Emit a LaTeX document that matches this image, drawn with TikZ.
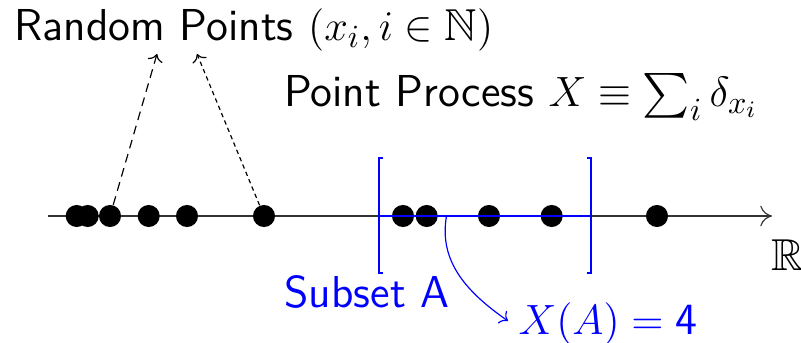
\documentclass[tikz,border=0pt]{standalone}
\usepackage{amssymb}
\usetikzlibrary{arrows.meta}
\tikzset{
  pt/.style={circle,fill=black,inner sep=0pt,minimum size=7.5pt},
  lbl/.style={font=\sffamily\fontsize{15.2}{18}\selectfont,inner sep=0pt},
  ptr/.style={->,densely dashed,thin},
  subset/.style={blue,line width=0.8pt}
}
\begin{document}
\begin{tikzpicture}[x=0.34pt,y=-0.34pt]
\useasboundingbox (0,0) rectangle (801,343);
% axis
\coordinate (axL) at (48,216);
\coordinate (axR) at (772,216);
\draw[-{To[length=4pt,width=7pt]},black!80] (axL) -- (axR);
\node[lbl] (R) at (788,255) {$\mathbb{R}$};

% the subset A
\draw[subset] (383,158) -- (379.3,158) -- (379.3,273) -- (383,273);
\draw[subset] (587,158) -- (590.7,158) -- (590.7,273) -- (587,273);

% points
\node[pt] (p1) at (76.7,216) {};
\node[pt] (p2) at (87.7,216) {};
\node[pt] (p3) at (110,216) {};
\node[pt] (p4) at (148.7,216) {};
\node[pt] (p5) at (187,216) {};
\node[pt] (p6) at (264,216) {};
\node[pt] (p7) at (403,216) {};
\node[pt] (p8) at (426.7,216) {};
\node[pt] (p9) at (489,216) {};
\node[pt] (p10) at (551.7,216) {};
\node[pt] (p11) at (657,216) {};

\coordinate (aL) at (379.3,216);
\coordinate (aR) at (590.7,216);
\draw[subset] (aL) -- (aR);

% labels
\node[lbl] (rp) at (254,30) {Random Points $(x_i, i \in \mathbb{N})$};
\node[lbl] (pp) at (521,97) {Point Process $X \equiv \sum_i \delta_{x_i}$};
\node[lbl,blue] (sa) at (367,292) {Subset A};
\node[lbl,blue] (xa) at (608,324) {$X(A) = \mbox{4}$};

\coordinate (t1) at (157,54);
\coordinate (t2) at (197,54);
\draw[ptr] (p3) -- (t1);
\draw[ptr,dash pattern=on 1.5pt off 1.2pt] (p6) -- (t2);

\coordinate (c0) at (446.5,216);
\coordinate (c1) at (508,321);
\draw[->,blue,thin] (c0) to[out=-100,in=145] (c1);
\end{tikzpicture}
\end{document}
